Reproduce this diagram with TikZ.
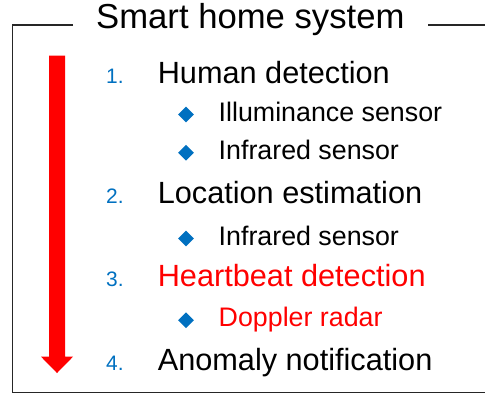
\documentclass[tikz,border=0pt]{standalone}
\usepackage{fontspec}
\setmainfont{Liberation Sans}
\usetikzlibrary{shapes.geometric}
\definecolor{listblue}{HTML}{0070C0}
\definecolor{hlred}{HTML}{FF0000}
\definecolor{frame}{HTML}{262626}
\tikzset{
  titletext/.style={anchor=base west, inner sep=0pt, font=\fontsize{34.8}{40}\selectfont},
  itemtext/.style={anchor=base west, inner sep=0pt, font=\fontsize{30.8}{36}\selectfont},
  subtext/.style={anchor=base west, inner sep=0pt, font=\fontsize{26.9}{32}\selectfont},
  numtext/.style={anchor=base west, inner sep=0pt, text=listblue, font=\fontsize{21}{25}\selectfont},
  bullet/.style={diamond, fill=listblue, inner sep=0pt, minimum width=16bp, minimum height=16bp},
  framestroke/.style={draw=frame, line width=1.6bp},
}
\begin{document}
\begin{tikzpicture}[x=1bp, y=-1bp]
\useasboundingbox (0,0) rectangle (485,394);

% frame with a gap in the top edge for the heading
\coordinate (tl) at (12.5,25);
\coordinate (tg1) at (73,25);
\coordinate (tg2) at (428,25);
\coordinate (tr) at (492,25);
\coordinate (bl) at (12.5,392.5);
\coordinate (br) at (492,392.5);
\draw[framestroke] (tg1) -- (tl) -- (bl) -- (br);
\draw[framestroke] (tg2) -- (tr);

\node[titletext] (title) at (96,28) {Smart home system};

% downward process arrow
\fill[hlred] (49,55.7) -- (65,55.7) -- (65,356.7) -- (73,356.7) -- (57,373)
  -- (41,356.7) -- (49,356.7) -- cycle;

% numbered steps
\node[numtext] (n1) at (106,83) {1.};
\node[itemtext] (i1) at (157.6,83) {Human detection};
\node[bullet] (b1) at (186,114.5) {};
\node[subtext] (s1) at (218.5,121) {Illuminance sensor};
\node[bullet] (b2) at (186,152.8) {};
\node[subtext] (s2) at (218.5,159.3) {Infrared sensor};

\node[numtext] (n2) at (106,203.3) {2.};
\node[itemtext] (i2) at (157.6,203.3) {Location estimation};
\node[bullet] (b3) at (186,238.5) {};
\node[subtext] (s3) at (218.5,245) {Infrared sensor};

\node[numtext] (n3) at (106,286.7) {3.};
\node[itemtext, text=hlred] (i3) at (157.6,286.7) {Heartbeat detection};
\node[bullet] (b4) at (186,320.2) {};
\node[subtext, text=hlred] (s4) at (218.5,326.7) {Doppler radar};

\node[numtext] (n4) at (106,370) {4.};
\node[itemtext] (i4) at (157.6,370) {Anomaly notification};
\end{tikzpicture}
\end{document}
